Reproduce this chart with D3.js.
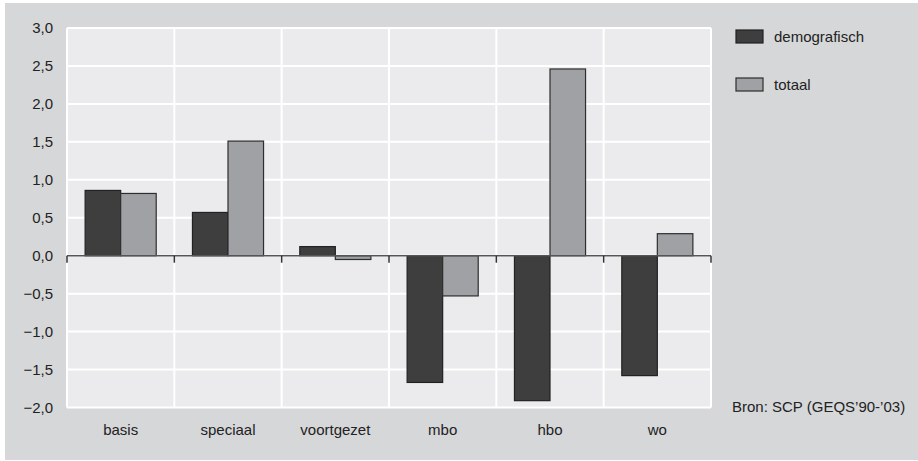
<!DOCTYPE html>
<html>
<head>
<meta charset="utf-8">
<script src="https://cdn.jsdelivr.net/npm/d3@7/dist/d3.min.js"></script>
<style>
  html, body { margin: 0; padding: 0; background: #ffffff; }
  svg { display: block; font-family: "Liberation Sans", Arial, sans-serif; }
</style>
</head>
<body>
<svg id="chart" width="918" height="461"></svg>
<script>
// Onderwijssoorten en de twee reeksen (procentuele verandering)
const categories = ["basis", "speciaal", "voortgezet", "mbo", "hbo", "wo"];
const seriesNames = ["demografisch", "totaal"];
const demografisch = [0.86, 0.57, 0.12, -1.67, -1.91, -1.58];
const totaal = [0.82, 1.51, -0.05, -0.53, 2.46, 0.29];
const yTicks = [3.0, 2.5, 2.0, 1.5, 1.0, 0.5, 0.0, -0.5, -1.0, -1.5, -2.0];
const sourceText = "Bron: SCP (GEQS\u201990-\u201903)";

const fills = { demografisch: "#3e3e3e", totaal: "#a0a1a4" };
const strokes = { demografisch: "#222222", totaal: "#2e2e2e" };

const rows = categories.map((c, i) => ({ cat: c, demografisch: demografisch[i], totaal: totaal[i] }));

const svg = d3.select("#chart");
const plot = { left: 67, right: 711, top: 28, bottom: 407.5 };

// buitenste achtergrond
svg.append("rect").attr("x", 5).attr("y", 3).attr("width", 913).attr("height", 457).attr("fill", "#d6d7d9");

// plotgebied
svg.append("rect")
  .attr("x", plot.left).attr("y", plot.top)
  .attr("width", plot.right - plot.left).attr("height", plot.bottom - plot.top)
  .attr("fill", "#ebebed");

const x = d3.scaleBand().domain(categories).range([plot.left, plot.right]).paddingInner(0).paddingOuter(0);
const x1 = d3.scaleBand().domain(seriesNames).range([0, x.bandwidth()]).paddingInner(0).paddingOuter(0.51);
const y = d3.scaleLinear().domain([-2, 3]).range([plot.bottom, plot.top]);

const fmt = v => d3.format(".1f")(v).replace(".", ",").replace("-", "\u2212");

// horizontale rasterlijnen
svg.append("g").selectAll("line").data(yTicks).join("line")
  .attr("x1", plot.left).attr("x2", plot.right)
  .attr("y1", d => y(d)).attr("y2", d => y(d))
  .attr("stroke", "#ffffff").attr("stroke-width", 2);

// verticale rasterlijnen op de categoriegrenzen
const bounds = categories.map(c => x(c)).concat([plot.right]);
svg.append("g").selectAll("line").data(bounds).join("line")
  .attr("x1", d => d).attr("x2", d => d)
  .attr("y1", plot.top).attr("y2", plot.bottom)
  .attr("stroke", "#ffffff").attr("stroke-width", 2);

// y-as labels
const yAxis = d3.axisLeft(y).tickValues(yTicks).tickFormat(fmt).tickSize(0).tickPadding(0);
const gy = svg.append("g").attr("transform", `translate(53,0)`).call(yAxis);
gy.select(".domain").remove();
gy.selectAll("text").attr("font-size", 15).attr("fill", "#222").attr("font-family", "Liberation Sans, Arial, sans-serif");

// staven
const groups = svg.append("g").selectAll("g").data(rows).join("g")
  .attr("transform", d => `translate(${x(d.cat)},0)`);
groups.selectAll("rect").data(d => seriesNames.map(k => ({ key: k, value: d[k] }))).join("rect")
  .attr("x", d => x1(d.key))
  .attr("width", x1.bandwidth())
  .attr("y", d => y(Math.max(0, d.value)))
  .attr("height", d => Math.abs(y(d.value) - y(0)))
  .attr("fill", d => fills[d.key])
  .attr("stroke", d => strokes[d.key])
  .attr("stroke-width", 1.2);

// nullijn met streepjes
svg.append("line")
  .attr("x1", plot.left).attr("x2", plot.right)
  .attr("y1", y(0)).attr("y2", y(0))
  .attr("stroke", "#555").attr("stroke-width", 1.5);
svg.append("g").selectAll("line").data(bounds).join("line")
  .attr("x1", d => d).attr("x2", d => d)
  .attr("y1", y(0)).attr("y2", y(0) + 7)
  .attr("stroke", "#333").attr("stroke-width", 1.5);

// categorie labels
const gx = svg.append("g").attr("transform", `translate(0,${plot.bottom})`)
  .call(d3.axisBottom(x).tickSize(0).tickPadding(17));
gx.select(".domain").remove();
gx.selectAll("text").attr("font-size", 15).attr("fill", "#222").attr("font-family", "Liberation Sans, Arial, sans-serif");

// legenda
const legend = svg.append("g");
seriesNames.forEach((k, i) => {
  const ly = 30 + i * 48;
  legend.append("rect").attr("x", 736).attr("y", ly).attr("width", 27).attr("height", 13)
    .attr("fill", fills[k]).attr("stroke", strokes[k]).attr("stroke-width", 1.2);
  legend.append("text").attr("x", 774).attr("y", ly + 12).attr("font-size", 15).attr("fill", "#222").text(k);
});

// bron
svg.append("text").attr("x", 732).attr("y", 412).attr("font-size", 15).attr("fill", "#222").text(sourceText);
</script>
</body>
</html>
